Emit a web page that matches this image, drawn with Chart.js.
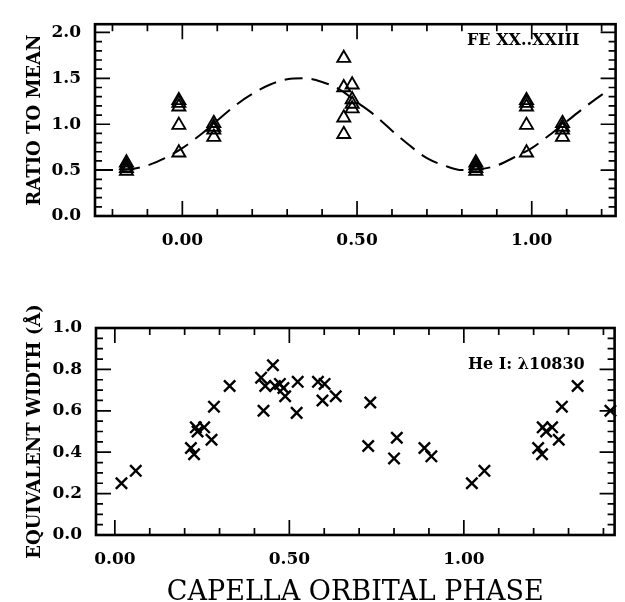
<!DOCTYPE html>
<html lang="en">
<head>
<meta charset="UTF-8">
<title>Capella orbital phase</title>
<style>
    html, body { margin: 0; padding: 0; background: #ffffff; overflow: hidden; }
    canvas { position: absolute; left: 0; }
    #feChart { top: 0; }
    #heChart { top: 300px; }
</style>
</head>
<body>

<canvas id="feChart" width="625" height="300"></canvas>
<canvas id="heChart" width="625" height="302"></canvas>

<script src="https://cdn.jsdelivr.net/npm/chart.js"></script>
<script>
// === DATA: top panel, Fe XX..XXIII ratio to mean ===
const fePhase = [-0.16, -0.16, -0.16, -0.16,
                 -0.01, -0.01, -0.01, -0.01, -0.01,
                 0.09, 0.09, 0.09, 0.09,
                 0.462, 0.462, 0.462, 0.462,
                 0.486, 0.486, 0.486, 0.486,
                 0.84, 0.84, 0.84, 0.84,
                 0.985, 0.985, 0.985, 0.985, 0.985,
                 1.088, 1.088, 1.088, 1.088];
const feRatio = [0.58, 0.55, 0.52, 0.49,
                 1.26, 1.23, 1.19, 0.99, 0.69,
                 1.01, 0.97, 0.94, 0.86,
                 1.72, 1.40, 1.07, 0.89,
                 1.43, 1.27, 1.22, 1.17,
                 0.58, 0.55, 0.52, 0.49,
                 1.26, 1.23, 1.19, 0.99, 0.69,
                 1.01, 0.97, 0.94, 0.86];

// dashed model curve
const fitPhase = [-0.25, -0.20, -0.15, -0.10, -0.05, 0.00, 0.05, 0.10, 0.15, 0.20, 0.25, 0.30,
                  0.35, 0.40, 0.45, 0.50, 0.55, 0.60, 0.65, 0.70, 0.75, 0.80, 0.85, 0.90,
                  0.95, 1.00, 1.05, 1.10, 1.15, 1.20, 1.22];
const fitRatio = [0.50, 0.50, 0.51, 0.55, 0.63, 0.74, 0.88, 1.04, 1.20, 1.33, 1.43, 1.49,
                  1.50, 1.46, 1.38, 1.24, 1.10, 0.93, 0.77, 0.63, 0.55, 0.50, 0.51, 0.55,
                  0.64, 0.74, 0.88, 1.03, 1.18, 1.32, 1.37];

// === DATA: bottom panel, He I 10830 equivalent width ===
const hePhase = [0.019, 0.060, 0.218, 0.227, 0.232, 0.237, 0.256, 0.277, 0.284, 0.329,
                 0.419, 0.426, 0.431, 0.453, 0.459, 0.473, 0.483, 0.488, 0.524, 0.521,
                 0.582, 0.601, 0.595, 0.633, 0.732, 0.726, 0.808, 0.800, 0.887, 0.907,
                 1.023, 1.059, 1.213, 1.224, 1.226, 1.236, 1.253, 1.272, 1.281, 1.326, 1.420];
const heWidth = [0.25, 0.31, 0.42, 0.39, 0.52, 0.50, 0.52, 0.46, 0.62, 0.72,
                 0.76, 0.60, 0.72, 0.82, 0.72, 0.73, 0.71, 0.67, 0.74, 0.59,
                 0.74, 0.73, 0.65, 0.67, 0.64, 0.43, 0.47, 0.37, 0.42, 0.38,
                 0.25, 0.31, 0.42, 0.39, 0.52, 0.50, 0.52, 0.46, 0.62, 0.72, 0.60];

// === TICKS ===
const phaseMajor = [0, 0.5, 1.0];
const feXMinor = [-0.2, -0.1, 0.1, 0.2, 0.3, 0.4, 0.6, 0.7, 0.8, 0.9, 1.1, 1.2];
const heXMinor = [0.1, 0.2, 0.3, 0.4, 0.6, 0.7, 0.8, 0.9, 1.1, 1.2, 1.3, 1.4];
const feYMajor = [0, 0.5, 1.0, 1.5, 2.0];
const feYMinor = [0.1, 0.2, 0.3, 0.4, 0.6, 0.7, 0.8, 0.9, 1.1, 1.2, 1.3, 1.4, 1.6, 1.7, 1.8, 1.9];
const heYMajor = [0, 0.2, 0.4, 0.6, 0.8, 1.0];
const heYMinor = [0.05, 0.1, 0.15, 0.25, 0.3, 0.35, 0.45, 0.5, 0.55, 0.65, 0.7, 0.75, 0.85, 0.9, 0.95];

const pts = (xs, ys) => xs.map((x, i) => ({ x: x, y: ys[i] }));

const tickFont = { family: 'DejaVu Serif', size: 17, weight: 'bold' };

// frame + inward ticks on all four sides, plus the panel label
const framePlugin = {
    id: 'frame',
    afterDraw(chart, args, o) {
        const ctx = chart.ctx;
        const a = chart.chartArea;
        const sx = chart.scales.x, sy = chart.scales.y;
        ctx.save();
        ctx.strokeStyle = '#000';
        ctx.lineWidth = 1.7;
        ctx.beginPath();
        const tx = (list, len) => list.forEach(v => {
            const p = sx.getPixelForValue(v);
            ctx.moveTo(p, a.bottom); ctx.lineTo(p, a.bottom - len);
            ctx.moveTo(p, a.top); ctx.lineTo(p, a.top + len);
        });
        const ty = (list, len) => list.forEach(v => {
            const p = sy.getPixelForValue(v);
            ctx.moveTo(a.left, p); ctx.lineTo(a.left + len, p);
            ctx.moveTo(a.right, p); ctx.lineTo(a.right - len, p);
        });
        tx(o.xMajor, 15); tx(o.xMinor, 7);
        ty(o.yMajor, 15); ty(o.yMinor, 7);
        ctx.stroke();

        ctx.lineWidth = 2.6;
        ctx.strokeRect(a.left, a.top, a.right - a.left, a.bottom - a.top);

        ctx.fillStyle = '#000';
        ctx.font = 'bold 16px "DejaVu Serif"';
        ctx.textAlign = 'left';
        ctx.textBaseline = 'middle';
        ctx.fillText(o.note, o.noteX, o.noteY);
        ctx.restore();
    }
};

function makeAxes(xMin, xMax, yMin, yMax, yTicks, yDigits, yTitle, yWidth, xHeight, showXTitle) {
    return {
        x: {
            type: 'linear',
            min: xMin,
            max: xMax,
            afterBuildTicks: s => { s.ticks = phaseMajor.map(v => ({ value: v })); },
            afterFit: s => { s.height = xHeight; },
            grid: { display: false, drawTicks: false },
            border: { display: false },
            ticks: {
                color: '#000',
                font: tickFont,
                padding: 14,
                maxRotation: 0,
                callback: v => v.toFixed(2)
            },
            title: {
                display: showXTitle,
                text: 'CAPELLA ORBITAL PHASE',
                color: '#000',
                font: { family: 'DejaVu Serif', size: 27, lineHeight: 0.7 },
                padding: 0
            }
        },
        y: {
            type: 'linear',
            min: yMin,
            max: yMax,
            afterBuildTicks: s => { s.ticks = yTicks.map(v => ({ value: v })); },
            afterFit: s => { s.width = yWidth; },
            grid: { display: false, drawTicks: false },
            border: { display: false },
            ticks: {
                color: '#000',
                font: tickFont,
                padding: 14,
                callback: v => v.toFixed(yDigits)
            },
            title: {
                display: true,
                text: yTitle,
                color: '#000',
                font: { family: 'DejaVu Serif', size: 18, weight: 'bold' },
                padding: { top: 25, bottom: 0 }
            }
        }
    };
}

// === 1. FE XX..XXIII ===
new Chart(document.getElementById('feChart'), {
    type: 'scatter',
    data: {
        datasets: [{
            data: pts(fitPhase, fitRatio),
            showLine: true,
            borderColor: '#000',
            borderWidth: 2,
            borderDash: [18, 9],
            cubicInterpolationMode: 'monotone',
            pointRadius: 0
        }, {
            data: pts(fePhase, feRatio),
            pointStyle: 'triangle',
            pointRadius: 7.5,
            pointBorderWidth: 1.9,
            pointBorderColor: '#000',
            pointBackgroundColor: 'rgba(255,255,255,0)',
            clip: false
        }]
    },
    options: {
        responsive: false,
        animation: false,
        events: [],
        layout: { padding: { left: 0, right: 6, top: 10, bottom: 0 } },
        scales: makeAxes(-0.25, 1.24, 0, 2.09, feYMajor, 1, 'RATIO TO MEAN', 95, 84, false),
        plugins: {
            legend: { display: false },
            tooltip: { enabled: false },
            frame: { xMajor: phaseMajor, xMinor: feXMinor, yMajor: feYMajor, yMinor: feYMinor,
                     note: 'FE XX..XXIII', noteX: 467, noteY: 41 }
        }
    },
    plugins: [framePlugin]
});

// === 2. He I 10830 ===
new Chart(document.getElementById('heChart'), {
    type: 'scatter',
    data: {
        datasets: [{
            data: pts(hePhase, heWidth),
            pointStyle: 'crossRot',
            pointRadius: 8,
            pointBorderWidth: 2.4,
            pointBorderColor: '#000',
            clip: false
        }]
    },
    options: {
        responsive: false,
        animation: false,
        events: [],
        layout: { padding: { left: 0, right: 6, top: 28, bottom: 0 } },
        scales: makeAxes(-0.054, 1.432, 0, 1.0, heYMajor, 1, 'EQUIVALENT WIDTH (Å)', 96, 67, true),
        plugins: {
            legend: { display: false },
            tooltip: { enabled: false },
            frame: { xMajor: phaseMajor, xMinor: heXMinor, yMajor: heYMajor, yMinor: heYMinor,
                     note: 'He I: λ10830', noteX: 468, noteY: 65 }
        }
    },
    plugins: [framePlugin]
});
</script>
</body>
</html>
